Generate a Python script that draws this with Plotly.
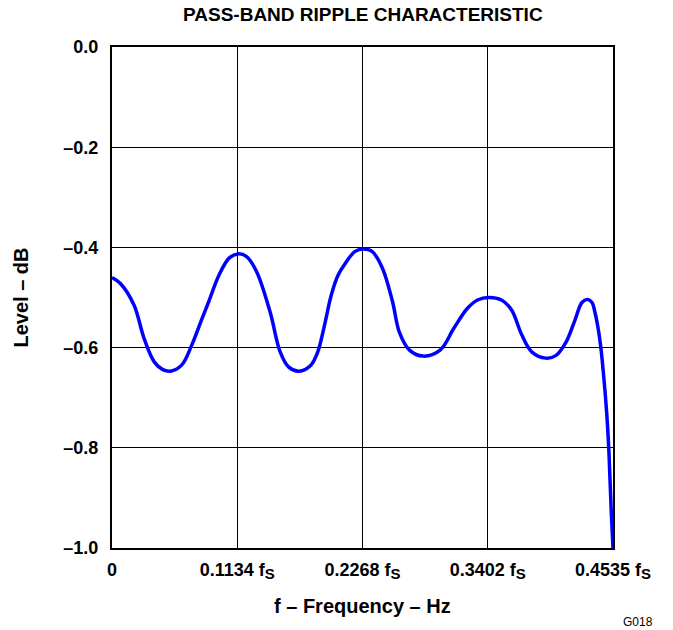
import plotly.graph_objects as go

# Data
freq = [0.0, 0.0076, 0.0199, 0.0291, 0.0384, 0.0460, 0.0529, 0.0630, 0.0722, 0.0815,
        0.0876, 0.0969, 0.1062, 0.1139, 0.1216, 0.1308, 0.1430, 0.1523, 0.1600,
        0.1693, 0.1800, 0.1862, 0.1924, 0.1985, 0.2047, 0.2108, 0.2200, 0.2277,
        0.2354, 0.2447, 0.2539, 0.2601, 0.2693, 0.2816, 0.2970, 0.3093, 0.3216,
        0.3309, 0.3411, 0.3525, 0.3617, 0.3710, 0.3802, 0.3925, 0.4017, 0.4110,
        0.4186, 0.4254, 0.4304, 0.4345, 0.4372, 0.4399, 0.4424, 0.4454, 0.4478,
        0.4496, 0.4508, 0.4520, 0.4535]
level = [-0.460, -0.472, -0.515, -0.582, -0.629, -0.644, -0.647, -0.635, -0.595, -0.542,
         -0.508, -0.455, -0.421, -0.413, -0.418, -0.448, -0.528, -0.609, -0.639,
         -0.647, -0.635, -0.609, -0.555, -0.495, -0.455, -0.433, -0.408, -0.403,
         -0.408, -0.441, -0.508, -0.569, -0.605, -0.617, -0.605, -0.562, -0.522,
         -0.505, -0.500, -0.505, -0.525, -0.575, -0.609, -0.621, -0.616, -0.589,
         -0.548, -0.510, -0.504, -0.510, -0.530, -0.560, -0.598, -0.665, -0.731,
         -0.798, -0.864, -0.931, -1.000]

SUB = '<sub><span style="font-size:15px">S</span></sub>'
x_tickvals = [0, 0.1134, 0.2268, 0.3402, 0.4535]
x_ticktext = ["0", "0.1134 f" + SUB, "0.2268 f" + SUB,
              "0.3402 f" + SUB, "0.4535 f" + SUB]
y_tickvals = [0.0, -0.2, -0.4, -0.6, -0.8, -1.0]
y_ticktext = ["0.0", "\u20130.2", "\u20130.4", "\u20130.6", "\u20130.8", "\u20131.0"]

FONT = "Liberation Sans, Arial, Helvetica, sans-serif"

fig = go.Figure()
fig.add_trace(go.Scatter(
    x=freq, y=level, mode="lines",
    line=dict(color="#0000FF", width=3.5, shape="spline", smoothing=1.0),
    showlegend=False, hoverinfo="skip",
))

axis_common = dict(
    showgrid=True, gridcolor="black", gridwidth=1,
    showline=True, linecolor="black", linewidth=2, mirror=True,
    zeroline=False, ticks="",
    tickfont=dict(family=FONT, size=18, color="black", weight="bold"),
)

fig.update_layout(
    width=665, height=622,
    margin=dict(l=104, r=60, t=39, b=82),
    paper_bgcolor="white", plot_bgcolor="white",
    font=dict(family=FONT, color="black"),
    xaxis=dict(range=[0, 0.4535], tickvals=x_tickvals, ticktext=x_ticktext,
               ticklabelstandoff=4, **axis_common),
    yaxis=dict(range=[-1.0, 0.0], tickvals=y_tickvals, ticktext=y_ticktext,
               ticklabelstandoff=8, **axis_common),
    annotations=[
        dict(text="PASS-BAND RIPPLE CHARACTERISTIC", xref="paper", yref="paper",
             x=0.5, y=1.0639, xanchor="center", yanchor="middle", showarrow=False,
             font=dict(family=FONT, size=19, color="black", weight="bold")),
        dict(text="f \u2013 Frequency \u2013 Hz", xref="paper", yref="paper",
             x=0.5, y=-0.1158, xanchor="center", yanchor="middle", showarrow=False,
             font=dict(family=FONT, size=20, color="black", weight="bold")),
        dict(text="Level \u2013 dB", xref="paper", yref="paper",
             x=-0.1836, y=0.5, xanchor="center", yanchor="middle", showarrow=False,
             textangle=-90,
             font=dict(family=FONT, size=20, color="black", weight="bold")),
        dict(text="G018", xref="paper", yref="paper",
             x=1.05, y=-0.1487, xanchor="center", yanchor="middle", showarrow=False,
             font=dict(family=FONT, size=12, color="black")),
    ],
)

fig.write_html("out.html")
